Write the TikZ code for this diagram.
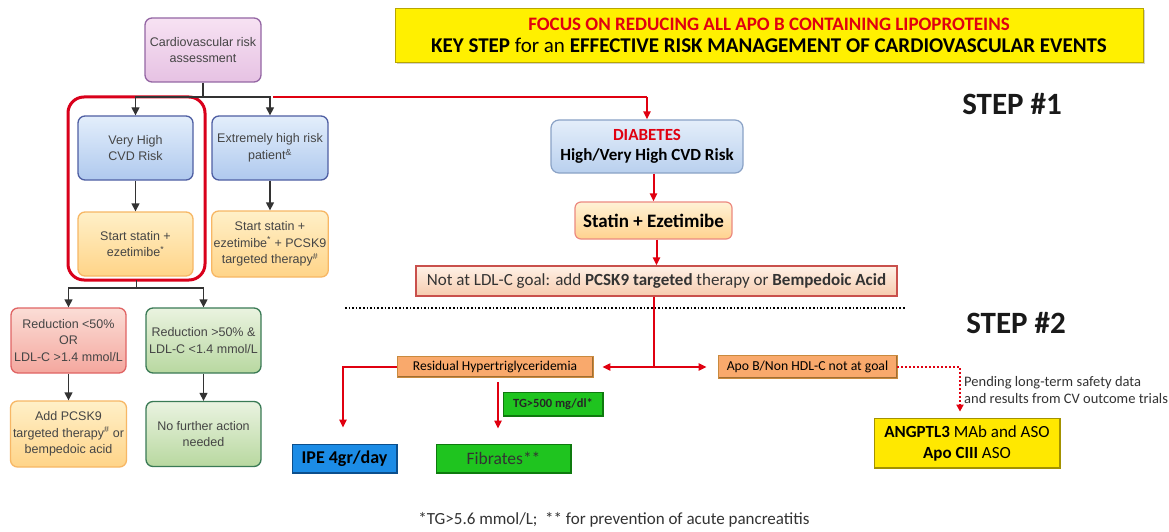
\documentclass[tikz,border=0pt]{standalone}
\usepackage{fontspec}
\setmainfont{Liberation Sans}
\newfontfamily\calfont{Carlito}
\usetikzlibrary{arrows.meta,shadows,calc}
\definecolor{tgray}{HTML}{454545}
\definecolor{purT}{HTML}{F7E2F3}
\definecolor{purB}{HTML}{E6C2E3}
\definecolor{purD}{HTML}{9466A4}
\definecolor{bluT}{HTML}{E3EEFB}
\definecolor{bluB}{HTML}{AFC9EE}
\definecolor{bluD}{HTML}{4F5FA3}
\definecolor{oraT}{HTML}{FFF0C8}
\definecolor{oraB}{HTML}{FFD488}
\definecolor{oraD}{HTML}{F7B765}
\definecolor{redT}{HTML}{FBDDD6}
\definecolor{redB}{HTML}{F4A79E}
\definecolor{redD}{HTML}{E06464}
\definecolor{grnT}{HTML}{EAF3E0}
\definecolor{grnB}{HTML}{B8D8A0}
\definecolor{grnD}{HTML}{3A7A55}
\definecolor{frame}{HTML}{D9001B}
\definecolor{arrred}{HTML}{E00010}
\definecolor{bannerY}{HTML}{FFF000}
\definecolor{bannerD}{HTML}{B8A600}
\definecolor{dbluT}{HTML}{E4EEFA}
\definecolor{dbluB}{HTML}{B9D0EE}
\definecolor{dbluD}{HTML}{8AA2C6}
\definecolor{stT}{HTML}{FFF2D6}
\definecolor{stB}{HTML}{FFD28E}
\definecolor{stD}{HTML}{EC8A80}
\definecolor{ngT}{HTML}{FFF1E6}
\definecolor{ngB}{HTML}{F6CBAE}
\definecolor{ngD}{HTML}{C9504C}
\definecolor{peach}{HTML}{F9A96C}
\definecolor{peachD}{HTML}{C98A3E}
\definecolor{ipe}{HTML}{1C8CE6}
\definecolor{ipeD}{HTML}{0C4F8C}
\definecolor{fib}{HTML}{1FC41F}
\definecolor{fibD}{HTML}{0E7A0E}
\definecolor{angY}{HTML}{FFE800}
\definecolor{angD}{HTML}{A39200}
\tikzset{
  lbox/.style={rounded corners=7pt, line width=1.3pt, align=center, text=tgray,
    font=\fontsize{12.5}{16.7}\selectfont, inner sep=2pt},
  purbox/.style={lbox, draw=purD, top color=purT, bottom color=purB},
  blubox/.style={lbox, draw=bluD, top color=bluT, bottom color=bluB},
  orabox/.style={lbox, draw=oraD, top color=oraT, bottom color=oraB},
  redbox/.style={lbox, draw=redD, top color=redT, bottom color=redB},
  grnbox/.style={lbox, draw=grnD, top color=grnT, bottom color=grnB},
  barr/.style={line width=1.3pt, draw={black!80}, -{Triangle[length=8pt,width=8pt]}},
  bline/.style={line width=1.3pt, draw={black!80}},
  rline/.style={line width=2pt, draw=arrred},
  rarr/.style={line width=2pt, draw=arrred, -{Triangle[length=8pt,width=7pt]}},
  rdarr/.style={line width=2pt, draw=arrred, dotted, -{Triangle[length=7pt,width=7pt]}},
  bevel/.style={path picture={\draw[line width=3pt,#1]
     (path picture bounding box.south west) -- (path picture bounding box.south east)
     -- (path picture bounding box.north east);}},
  flat/.style={draw=#1, line width=0.8pt, align=center, inner sep=1pt, font=\calfont},
  steplabel/.style={font=\calfont\bfseries\fontsize{31}{33}\selectfont, text=black!90}
}
\begin{document}
\begin{tikzpicture}[x=1pt,y=-1pt]
\useasboundingbox[fill=white] (0,0) rectangle (1169,532);

% ---------- left flow ----------
\node[purbox, minimum width=116pt, minimum height=64pt] (cra) at (203,50) {Cardiovascular risk\\assessment};
\node[blubox, minimum width=115pt, minimum height=64pt] (vh) at (135.5,148) {Very High\\CVD Risk};
\node[blubox, minimum width=116pt, minimum height=64pt] (ex) at (270,148) {Extremely high risk\\patient\textsuperscript{\&}};
\node[orabox, minimum width=115pt, minimum height=64pt] (ss1) at (135.5,244) {Start statin +\\ezetimibe\textsuperscript{*}};
\node[orabox, minimum width=116pt, minimum height=66pt] (ss2) at (270,244) {Start statin +\\ezetimibe\textsuperscript{*} + PCSK9\\targeted therapy\textsuperscript{\#}};
\node[redbox, minimum width=115pt, minimum height=65pt] (r1) at (68.5,340.5) {Reduction {<}50\%\\OR\\LDL-C {>}1.4 mmol/L};
\node[grnbox, minimum width=115pt, minimum height=65pt] (r2) at (203.5,340.5) {Reduction {>}50\% \&\\LDL-C {<}1.4 mmol/L};
\node[orabox, minimum width=116pt, minimum height=66pt] (a1) at (68.5,434) {Add PCSK9\\targeted therapy\textsuperscript{\#} or\\bempedoic acid};
\node[grnbox, minimum width=115pt, minimum height=65pt] (a2) at (203.5,434) {No further action\\needed};

% red frame
\draw[line width=3pt, draw=frame, rounded corners=16pt] (68,97) rectangle (205,280);
\coordinate (fb) at (136.5,280);

% black connectors
\coordinate (j1) at (203,97);
\draw[bline] (cra.south) -- (j1);
\draw[barr] (j1) -| (vh.north);
\draw[barr] (j1) -| (ex.north);
\draw[barr] (vh.south) -- (ss1.north);
\draw[barr] (ex.south) -- (ss2.north);
\coordinate (j2) at (136.5,288);
\draw[bline] (fb) -- (j2);
\draw[barr] (j2) -| (r1.north);
\draw[barr] (j2) -| (r2.north);
\draw[barr] (r1.south) -- (a1.north);
\draw[barr] (r2.south) -- (a2.north);

% ---------- banner ----------
\node[draw=bannerD, line width=0.8pt, fill=bannerY, minimum width=748pt, minimum height=54pt,
  align=center, font=\calfont\bfseries\fontsize{21}{22}\selectfont,
  drop shadow={shadow xshift=2pt, shadow yshift=-2pt, opacity=0.35}] (banner) at (769,35)
  {{\fontsize{19}{22}\selectfont\textcolor{arrred}{FOCUS ON REDUCING ALL APO B CONTAINING LIPOPROTEINS}}\\
   KEY STEP {\mdseries for an} EFFECTIVE RISK MANAGEMENT OF CARDIOVASCULAR EVENTS};

\node[steplabel] (s1) at (1012,104) {STEP \#1};
\node[steplabel] (s2) at (1016,323) {STEP \#2};

% ---------- right flow ----------
\node[rounded corners=8pt, line width=1.2pt, draw=dbluD, top color=dbluT, bottom color=dbluB,
  minimum width=192pt, minimum height=53pt, align=center,
  font=\calfont\bfseries\fontsize{17}{20}\selectfont] (diab) at (647,146.5)
  {\textcolor{arrred}{DIABETES}\\High/Very High CVD Risk};
\node[rounded corners=6pt, line width=1.2pt, draw=stD, top color=stT, bottom color=stB,
  minimum width=157pt, minimum height=37pt,
  font=\calfont\bfseries\fontsize{19}{22}\selectfont] (stat) at (653.5,220.5) {Statin + Ezetimibe};
\node[line width=1.2pt, draw=ngD, top color=ngT, bottom color=ngB,
  minimum width=481pt, minimum height=30pt, text=black!80, bevel={ngD!60!black},
  font=\calfont\fontsize{17}{18}\selectfont] (ng) at (656.5,281)
  {Not at LDL-C goal: add \textbf{PCSK9 targeted} therapy or \textbf{Bempedoic Acid}};

\draw[line width=1.6pt, dotted] (345,308) -- (905,308);

\node[flat=peachD, fill=peach, minimum width=196pt, minimum height=21pt, bevel={peachD!80!black},
  font=\calfont\fontsize{13.5}{15}\selectfont] (res) at (495,367) {Residual Hypertriglyceridemia};
\node[flat=peachD, fill=peach, minimum width=179pt, minimum height=23pt, bevel={peachD!80!black},
  font=\calfont\fontsize{13.7}{16}\selectfont] (apob) at (807.5,367) {Apo B/Non HDL-C not at goal};
\node[flat=fibD, fill=fib, minimum width=100pt, minimum height=24pt, bevel={fibD},
  font=\calfont\bfseries\fontsize{12.5}{14}\selectfont, text=black!85] (tg) at (553,404) {TG{>}500 mg/dl*};
\node[flat=ipeD, fill=ipe, minimum width=105pt, minimum height=29pt, bevel={ipeD},
  font=\calfont\bfseries\fontsize{18}{20}\selectfont, text=black] (ipe) at (344.5,458.5) {IPE 4gr/day};
\node[flat=fibD, fill=fib, minimum width=135pt, minimum height=29pt, bevel={fibD},
  font=\calfont\fontsize{17.5}{20}\selectfont, text=black!80] (fibr) at (503.5,458.5) {Fibrates**};
\node[flat=angD, fill=angY, minimum width=186pt, minimum height=50pt, bevel={angD},
  font=\calfont\fontsize{17}{21}\selectfont, text=black] (ang) at (967,443)
  {\textbf{ANGPTL3} MAb and ASO\\\textbf{Apo CIII} ASO};

\node[anchor=west, align=left, inner sep=0pt, text=black!80,
  font=\calfont\fontsize{14.5}{16.5}\selectfont] (pend) at (964,390)
  {Pending long-term safety data\\and results from CV outcome trials};

\node[font=\calfont\fontsize{17}{19}\selectfont, text=black!80, inner sep=0pt] (foot) at (614,520)
  {*TG{>}5.6 mmol/L;\ \ ** for prevention of acute pancreatitis};

% red connectors
\coordinate (rt1) at (273,97);
\coordinate (rt2) at (647,97);
\draw[rline] (rt1) -- (rt2);
\draw[rarr] (rt2) -- (diab.north);
\draw[rarr] (diab.south -| stat.north) -- (stat.north);
\draw[rarr] (stat.south -| ng.north) -- (ng.north);
\coordinate (j3) at (654,367);
\draw[rline] (ng.south -| j3) -- (j3);
\draw[rarr, shorten >=9pt] (j3) -- (res.east);
\draw[rarr, shorten >=11pt] (j3) -- (apob.west);
\coordinate (c1) at (343,367);
\draw[rarr, shorten >=16pt] (res.west) -- (c1) -- (ipe.north -| c1);
\draw[rarr, shorten >=15pt, shorten <=4pt] ([xshift=3pt]res.south) -- ([xshift=3pt]res.south |- fibr.north);
\coordinate (c2) at (960,367);
\draw[rdarr, shorten >=6pt] (apob.east) -- (c2) -- (ang.north -| c2);
\end{tikzpicture}
\end{document}
